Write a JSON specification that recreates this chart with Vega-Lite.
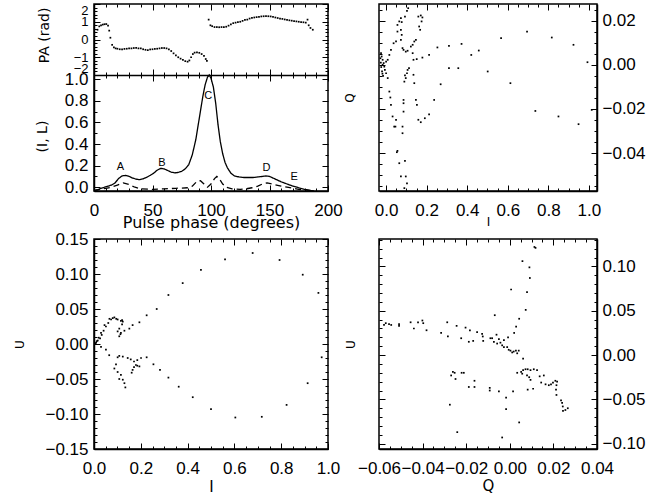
{
"$schema": "https://vega.github.io/schema/vega-lite/v6.json",
"padding": {"left": 12, "top": 2, "right": 5, "bottom": 1},
"datasets": {
"profile": [
{"phase":0,"value":-0.03,"series":"I"},{"phase":3,"value":-0.025,"series":"I"},{"phase":6,"value":-0.01,"series":"I"},{"phase":9,"value":0,"series":"I"},{"phase":12,"value":0.01,"series":"I"},{"phase":15,"value":0.02,"series":"I"},{"phase":18,"value":0.04,"series":"I"},{"phase":21,"value":0.08,"series":"I"},{"phase":24,"value":0.105,"series":"I"},{"phase":27,"value":0.11,"series":"I"},{"phase":30,"value":0.1,"series":"I"},{"phase":33,"value":0.085,"series":"I"},{"phase":36,"value":0.075,"series":"I"},{"phase":39,"value":0.07,"series":"I"},{"phase":42,"value":0.078,"series":"I"},{"phase":45,"value":0.092,"series":"I"},{"phase":48,"value":0.11,"series":"I"},{"phase":51,"value":0.13,"series":"I"},{"phase":54,"value":0.158,"series":"I"},{"phase":57,"value":0.175,"series":"I"},{"phase":60,"value":0.17,"series":"I"},{"phase":63,"value":0.155,"series":"I"},{"phase":66,"value":0.14,"series":"I"},{"phase":69,"value":0.133,"series":"I"},{"phase":72,"value":0.137,"series":"I"},{"phase":75,"value":0.148,"series":"I"},{"phase":78,"value":0.17,"series":"I"},{"phase":81,"value":0.21,"series":"I"},{"phase":84,"value":0.3,"series":"I"},{"phase":87,"value":0.44,"series":"I"},{"phase":90,"value":0.64,"series":"I"},{"phase":93,"value":0.84,"series":"I"},{"phase":95,"value":0.95,"series":"I"},{"phase":97,"value":1.02,"series":"I"},{"phase":98.5,"value":1.04,"series":"I"},{"phase":100,"value":1.01,"series":"I"},{"phase":102,"value":0.93,"series":"I"},{"phase":104,"value":0.78,"series":"I"},{"phase":106,"value":0.58,"series":"I"},{"phase":108,"value":0.42,"series":"I"},{"phase":110,"value":0.31,"series":"I"},{"phase":112,"value":0.23,"series":"I"},{"phase":114,"value":0.18,"series":"I"},{"phase":117,"value":0.13,"series":"I"},{"phase":120,"value":0.105,"series":"I"},{"phase":124,"value":0.095,"series":"I"},{"phase":128,"value":0.09,"series":"I"},{"phase":132,"value":0.09,"series":"I"},{"phase":136,"value":0.09,"series":"I"},{"phase":140,"value":0.095,"series":"I"},{"phase":144,"value":0.1,"series":"I"},{"phase":147,"value":0.105,"series":"I"},{"phase":150,"value":0.1,"series":"I"},{"phase":153,"value":0.085,"series":"I"},{"phase":156,"value":0.07,"series":"I"},{"phase":160,"value":0.05,"series":"I"},{"phase":165,"value":0.03,"series":"I"},{"phase":170,"value":0.01,"series":"I"},{"phase":175,"value":-0.005,"series":"I"},{"phase":180,"value":-0.02,"series":"I"},{"phase":185,"value":-0.03,"series":"I"},{"phase":188,"value":-0.034,"series":"I"},
{"phase":0,"value":-0.03,"series":"L"},{"phase":5,"value":-0.02,"series":"L"},{"phase":10,"value":-0.01,"series":"L"},{"phase":15,"value":0,"series":"L"},{"phase":20,"value":0.02,"series":"L"},{"phase":25,"value":0.04,"series":"L"},{"phase":30,"value":0.025,"series":"L"},{"phase":35,"value":0,"series":"L"},{"phase":40,"value":-0.015,"series":"L"},{"phase":50,"value":-0.02,"series":"L"},{"phase":60,"value":-0.015,"series":"L"},{"phase":70,"value":-0.01,"series":"L"},{"phase":80,"value":-0.005,"series":"L"},{"phase":84,"value":0.01,"series":"L"},{"phase":88,"value":0.055,"series":"L"},{"phase":91,"value":0.06,"series":"L"},{"phase":94,"value":0.03,"series":"L"},{"phase":97,"value":0,"series":"L"},{"phase":100,"value":0.03,"series":"L"},{"phase":103,"value":0.08,"series":"L"},{"phase":105,"value":0.1,"series":"L"},{"phase":107,"value":0.08,"series":"L"},{"phase":110,"value":0.03,"series":"L"},{"phase":113,"value":0,"series":"L"},{"phase":118,"value":-0.015,"series":"L"},{"phase":125,"value":-0.02,"series":"L"},{"phase":130,"value":-0.015,"series":"L"},{"phase":135,"value":-0.005,"series":"L"},{"phase":140,"value":0.01,"series":"L"},{"phase":144,"value":0.03,"series":"L"},{"phase":148,"value":0.04,"series":"L"},{"phase":152,"value":0.03,"series":"L"},{"phase":156,"value":0.02,"series":"L"},{"phase":160,"value":0.01,"series":"L"},{"phase":165,"value":0,"series":"L"},{"phase":170,"value":-0.01,"series":"L"},{"phase":175,"value":-0.02,"series":"L"},{"phase":180,"value":-0.025,"series":"L"},{"phase":185,"value":-0.03,"series":"L"}
],
"peaks": [
{"phase":22.5,"value":0.19,"label":"A"},{"phase":58,"value":0.225,"label":"B"},{"phase":97.7,"value":0.85,"label":"C"},{"phase":147.5,"value":0.18,"label":"D"},{"phase":171,"value":0.095,"label":"E"}
],
"pa": [
{"phase":3,"pa":0.55},{"phase":4.5,"pa":0.74},{"phase":6,"pa":0.8},{"phase":7.5,"pa":0.84},{"phase":9,"pa":0.86},{"phase":10.5,"pa":0.87},{"phase":12,"pa":0.78},{"phase":13,"pa":0.5},{"phase":14,"pa":0.1},{"phase":15.5,"pa":-0.3},{"phase":17,"pa":-0.45},{"phase":18.5,"pa":-0.5},{"phase":20,"pa":-0.52},{"phase":22,"pa":-0.55},{"phase":24,"pa":-0.55},{"phase":26,"pa":-0.53},{"phase":28,"pa":-0.52},{"phase":30,"pa":-0.5},{"phase":32,"pa":-0.5},{"phase":34,"pa":-0.48},{"phase":36,"pa":-0.47},{"phase":38,"pa":-0.5},{"phase":40,"pa":-0.5},{"phase":42,"pa":-0.55},{"phase":44,"pa":-0.58},{"phase":46,"pa":-0.6},{"phase":48,"pa":-0.56},{"phase":50,"pa":-0.55},{"phase":52,"pa":-0.53},{"phase":54,"pa":-0.52},{"phase":56,"pa":-0.5},{"phase":58,"pa":-0.48},{"phase":60,"pa":-0.48},{"phase":62,"pa":-0.5},{"phase":64,"pa":-0.55},{"phase":66,"pa":-0.65},{"phase":68,"pa":-0.78},{"phase":70,"pa":-0.9},{"phase":72,"pa":-1},{"phase":74,"pa":-1.08},{"phase":76,"pa":-1.15},{"phase":78,"pa":-1.22},{"phase":80,"pa":-1.25},{"phase":81.5,"pa":-1.18},{"phase":83,"pa":-1},{"phase":84.5,"pa":-0.82},{"phase":86,"pa":-0.74},{"phase":88,"pa":-0.72},{"phase":90,"pa":-0.75},{"phase":92,"pa":-0.82},{"phase":94,"pa":-0.92},{"phase":95.5,"pa":-1.1},{"phase":96.5,"pa":-1.2},
{"phase":98,"pa":1.12},{"phase":99.5,"pa":0.8},{"phase":101,"pa":0.75},{"phase":103,"pa":0.7},{"phase":105,"pa":0.7},{"phase":107,"pa":0.69},{"phase":109,"pa":0.7},{"phase":111,"pa":0.7},{"phase":113,"pa":0.72},{"phase":115,"pa":0.78},{"phase":117,"pa":0.85},{"phase":119,"pa":0.92},{"phase":121,"pa":0.95},{"phase":123,"pa":0.98},{"phase":125,"pa":1},{"phase":127,"pa":1.05},{"phase":129,"pa":1.1},{"phase":131,"pa":1.12},{"phase":133,"pa":1.18},{"phase":135,"pa":1.22},{"phase":137,"pa":1.24},{"phase":139,"pa":1.26},{"phase":141,"pa":1.28},{"phase":143,"pa":1.3},{"phase":145,"pa":1.31},{"phase":147,"pa":1.32},{"phase":149,"pa":1.31},{"phase":151,"pa":1.3},{"phase":153,"pa":1.27},{"phase":155,"pa":1.24},{"phase":157,"pa":1.21},{"phase":159,"pa":1.18},{"phase":161,"pa":1.16},{"phase":163,"pa":1.13},{"phase":165,"pa":1.1},{"phase":167,"pa":1.08},{"phase":169,"pa":1.06},{"phase":171,"pa":1.04},{"phase":173,"pa":1.02},{"phase":175,"pa":1},{"phase":177,"pa":0.98},{"phase":179,"pa":0.97},{"phase":181,"pa":0.95},{"phase":182.5,"pa":1.12},{"phase":183.5,"pa":0.8},{"phase":185,"pa":0.65},{"phase":187,"pa":0.55}
],
"qi": [
{"I":0.109,"Q":0.0257},{"I":0.103,"Q":0.0245},{"I":0.093,"Q":0.0219},{"I":0.077,"Q":0.0194},{"I":0.073,"Q":0.0159},{"I":0.077,"Q":0.0136},{"I":0.073,"Q":0.0113},{"I":0.081,"Q":0.0076},{"I":0.086,"Q":0.0068},{"I":0.097,"Q":0.006},{"I":0.106,"Q":0.0064},
{"I":0.159,"Q":0.0219},{"I":0.171,"Q":0.0224},{"I":0.179,"Q":0.0215},{"I":0.175,"Q":0.0197},{"I":0.163,"Q":0.0174},{"I":0.168,"Q":0.0159},{"I":0.147,"Q":0.0113},{"I":0.139,"Q":0.0106},{"I":0.131,"Q":0.0091},{"I":0.122,"Q":0.0083},{"I":0.131,"Q":0.0053},{"I":0.135,"Q":0.0023},{"I":0.151,"Q":0.0026},{"I":0.179,"Q":0.0033},{"I":0.212,"Q":0.0045},{"I":0.253,"Q":0.0079},{"I":0.31,"Q":0.0086},{"I":0.372,"Q":0.0095},{"I":0.457,"Q":0.0065},{"I":0.42,"Q":0.0045},{"I":0.567,"Q":0.0121},{"I":0.695,"Q":0.0151},{"I":0.817,"Q":0.0124},{"I":0.924,"Q":0.0091},{"I":0.993,"Q":0.0012},{"I":1.014,"Q":-0.0204},{"I":0.949,"Q":-0.0269},{"I":0.85,"Q":-0.0234},{"I":0.736,"Q":-0.0209},{"I":0.613,"Q":-0.0083},{"I":0.501,"Q":-0.003},{"I":0.356,"Q":-0.0015},{"I":0.31,"Q":-0.0015},{"I":0.269,"Q":-0.0088},{"I":0.237,"Q":-0.0159},{"I":0.212,"Q":-0.0224},{"I":0.171,"Q":-0.026},{"I":0.159,"Q":-0.0249},{"I":0.191,"Q":-0.0242},{"I":0.152,"Q":-0.0181},{"I":0.147,"Q":-0.0159},{"I":0.139,"Q":-0.0083},{"I":0.135,"Q":-0.0045},{"I":0.113,"Q":-0.0015},{"I":0.106,"Q":-0.0023},{"I":0.103,"Q":-0.0038},{"I":0.097,"Q":-0.006},{"I":0.093,"Q":-0.0048},{"I":0.09,"Q":-0.0076},{"I":0.086,"Q":-0.0159},{"I":0.086,"Q":-0.0174},{"I":0.086,"Q":-0.0212},{"I":0.081,"Q":-0.028},{"I":0.081,"Q":-0.031},{"I":0.093,"Q":-0.0435},{"I":0.056,"Q":-0.039},{"I":0.053,"Q":-0.0396},{"I":0.065,"Q":-0.0446},{"I":0.073,"Q":-0.0506},{"I":0.097,"Q":-0.0506},{"I":0.103,"Q":-0.0537},{"I":0.09,"Q":-0.0559},
{"I":-0.025,"Q":0.0053},{"I":-0.022,"Q":0.0038},{"I":-0.017,"Q":0.0023},{"I":-0.012,"Q":0.0008},{"I":-0.017,"Q":0},{"I":-0.009,"Q":-0.0008},{"I":-0.006,"Q":-0.0023},{"I":0,"Q":-0.0038},{"I":0.008,"Q":-0.006},{"I":0,"Q":0.0015},{"I":0.008,"Q":0.0023},{"I":0.016,"Q":0.0045},{"I":0.024,"Q":0.0068},{"I":0.037,"Q":0.0098},{"I":0.016,"Q":-0.0121},{"I":0.021,"Q":-0.0148},{"I":0.024,"Q":-0.0181},{"I":0.032,"Q":-0.0234},{"I":0.04,"Q":-0.028},{"I":0.046,"Q":-0.028},{"I":0.049,"Q":-0.0249},{"I":0.056,"Q":0.0181},{"I":0.065,"Q":0.0197},{"I":0.073,"Q":0.0212},{"I":0.056,"Q":0.0151},{"I":0.049,"Q":0.0106},{"I":-0.028,"Q":0.003},{"I":-0.026,"Q":0.001},{"I":-0.024,"Q":-0.001},{"I":-0.02,"Q":-0.003},{"I":-0.018,"Q":-0.004},{"I":-0.015,"Q":-0.005}
],
"ui": [
{"I":0.678,"U":0.13},{"I":0.56,"U":0.121},{"I":0.457,"U":0.106},{"I":0.379,"U":0.087},{"I":0.318,"U":0.07},{"I":0.268,"U":0.05},{"I":0.225,"U":0.041},{"I":0.194,"U":0.031},{"I":0.165,"U":0.027},{"I":0.151,"U":0.022},{"I":0.13,"U":0.019},{"I":0.115,"U":0.016},{"I":0.113,"U":0.014},{"I":0.108,"U":0.011},{"I":0.101,"U":0.018},{"I":0.108,"U":0.022},{"I":0.123,"U":0.032},{"I":0.12,"U":0.034},{"I":0.101,"U":0.035},{"I":0.087,"U":0.038},{"I":0.073,"U":0.035},{"I":0.061,"U":0.03},{"I":0.051,"U":0.025},{"I":0.041,"U":0.019},{"I":0.033,"U":0.013},{"I":0.026,"U":0.008},{"I":0.016,"U":0.005},{"I":0.009,"U":0.002},{"I":0.006,"U":0.001},{"I":0.012,"U":0.004},{"I":0.02,"U":0.009},{"I":0.03,"U":0.016},{"I":0.045,"U":0.027},{"I":0.066,"U":0.036},{"I":0.08,"U":0.037},{"I":0.095,"U":0.036},{"I":0.115,"U":0.033},{"I":0.12,"U":0.028},
{"I":0.793,"U":0.12},{"I":0.892,"U":0.099},{"I":0.959,"U":0.073},{"I":0.973,"U":-0.019},{"I":0.913,"U":-0.056},{"I":0.823,"U":-0.087},{"I":0.717,"U":-0.104},{"I":0.604,"U":-0.105},{"I":0.5,"U":-0.093},{"I":0.422,"U":-0.076},{"I":0.362,"U":-0.061},{"I":0.318,"U":-0.048},{"I":0.282,"U":-0.037},{"I":0.254,"U":-0.029},{"I":0.225,"U":-0.019},{"I":0.201,"U":-0.02},{"I":0.185,"U":-0.023},{"I":0.171,"U":-0.025},{"I":0.157,"U":-0.022},{"I":0.144,"U":-0.02},{"I":0.123,"U":-0.018},{"I":0.108,"U":-0.017},{"I":0.101,"U":-0.019},{"I":0.179,"U":-0.03},{"I":0.185,"U":-0.031},{"I":0.194,"U":-0.032},{"I":0.171,"U":-0.033},{"I":0.165,"U":-0.037},{"I":0.161,"U":-0.041},{"I":0.115,"U":-0.044},{"I":0.123,"U":-0.051},{"I":0.13,"U":-0.056},{"I":0.134,"U":-0.062},{"I":0.108,"U":-0.05},{"I":0.101,"U":-0.04},{"I":0.087,"U":-0.035},{"I":0.094,"U":-0.029},{"I":0.065,"U":-0.016},{"I":0.051,"U":-0.008},{"I":0.03,"U":-0.004}
],
"uq": [
{"Q":0.0118,"U":0.121},{"Q":0.0113,"U":0.122},{"Q":0.0058,"U":0.106},{"Q":0.009,"U":0.099},{"Q":0.0092,"U":0.087},{"Q":0.0006,"U":0.074},{"Q":0.0079,"U":0.071},{"Q":0.0073,"U":0.051},{"Q":0.0043,"U":0.041},{"Q":0.0029,"U":0.032},{"Q":0.002,"U":0.025},{"Q":-0.0008,"U":0.02},{"Q":-0.0027,"U":0.017},{"Q":-0.005,"U":0.018},{"Q":-0.0069,"U":0.045},{"Q":-0.0061,"U":0.023},{"Q":-0.0081,"U":0.019},{"Q":-0.0073,"U":0.015},{"Q":-0.0058,"U":0.013},{"Q":-0.0043,"U":0.014},{"Q":-0.0035,"U":0.011},{"Q":-0.0027,"U":0.009},{"Q":-0.0012,"U":0.009},{"Q":-0.0005,"U":0.006},{"Q":0.0003,"U":0.005},{"Q":0.0011,"U":0.003},{"Q":0.0018,"U":0.004},{"Q":0.0028,"U":0.005},{"Q":0.0034,"U":0.002},{"Q":0.0041,"U":0.005},{"Q":0.0061,"U":-0.004},
{"Q":-0.0577,"U":0.034},{"Q":-0.0569,"U":0.036},{"Q":-0.0554,"U":0.035},{"Q":-0.0544,"U":0.034},{"Q":-0.0508,"U":0.035},{"Q":-0.0508,"U":0.033},{"Q":-0.0455,"U":0.037},{"Q":-0.044,"U":0.03},{"Q":-0.0421,"U":0.037},{"Q":-0.0401,"U":0.039},{"Q":-0.0397,"U":0.036},{"Q":-0.0382,"U":0.028},{"Q":-0.0315,"U":0.025},{"Q":-0.0287,"U":0.037},{"Q":-0.0284,"U":0.021},{"Q":-0.0244,"U":0.033},{"Q":-0.0223,"U":0.019},{"Q":-0.0203,"U":0.031},{"Q":-0.0188,"U":0.015},{"Q":-0.0183,"U":0.028},{"Q":-0.0168,"U":0.016},{"Q":-0.015,"U":0.026},{"Q":-0.0127,"U":0.024},{"Q":-0.0124,"U":0.021},{"Q":-0.0122,"U":0.016},{"Q":-0.0089,"U":0.019},
{"Q":-0.0269,"U":-0.023},{"Q":-0.0261,"U":-0.019},{"Q":-0.0253,"U":-0.02},{"Q":-0.0249,"U":-0.027},{"Q":-0.0221,"U":-0.02},{"Q":-0.0211,"U":-0.02},{"Q":-0.0188,"U":-0.036},{"Q":-0.0162,"U":-0.029},{"Q":-0.0162,"U":-0.036},{"Q":-0.0275,"U":-0.056},{"Q":-0.0241,"U":-0.087},{"Q":-0.0092,"U":-0.037},{"Q":-0.0092,"U":-0.04},{"Q":-0.005,"U":-0.041},{"Q":-0.0017,"U":-0.048},{"Q":-0.0017,"U":-0.061},{"Q":-0.0035,"U":-0.093},{"Q":0.0015,"U":-0.041},{"Q":0.0043,"U":-0.076},{"Q":0.0034,"U":-0.02},{"Q":0.0052,"U":-0.019},{"Q":0.0061,"U":-0.017},{"Q":0.0072,"U":-0.016},{"Q":0.0082,"U":-0.016},{"Q":0.0095,"U":-0.017},{"Q":0.011,"U":-0.016},{"Q":0.0125,"U":-0.017},{"Q":0.0057,"U":-0.021},{"Q":0.0079,"U":-0.023},{"Q":0.0089,"U":-0.025},{"Q":0.0095,"U":-0.028},{"Q":0.0082,"U":-0.039},{"Q":0.0107,"U":-0.038},{"Q":0.0137,"U":-0.024},{"Q":0.0156,"U":-0.023},{"Q":0.0144,"U":-0.031},{"Q":0.0164,"U":-0.033},{"Q":0.0179,"U":-0.034},{"Q":0.0189,"U":-0.033},{"Q":0.0198,"U":-0.031},{"Q":0.0209,"U":-0.029},{"Q":0.0217,"U":-0.03},{"Q":0.0214,"U":-0.034},{"Q":0.0212,"U":-0.039},{"Q":0.0214,"U":-0.045},{"Q":0.0235,"U":-0.051},{"Q":0.024,"U":-0.054},{"Q":0.0243,"U":-0.058},{"Q":0.0244,"U":-0.063},{"Q":0.0255,"U":-0.062},{"Q":0.0266,"U":-0.06}
]
},
"columns": 2,
"spacing": {"row": 48, "column": 51},
"bounds": "flush",
"concat": [
{
"width": 234, "height": 187,
"layer": [
{"data": {"name": "profile"}, "mark": {"type": "line", "color": "black", "strokeWidth": 1.3},
"encoding": {
"x": {"field": "phase", "type": "quantitative", "scale": {"domain": [0, 200], "nice": false, "zero": false},
"axis": {"orient": "bottom", "values": [0,50,100,150,200], "format": "d", "ticks": false, "tickSize": 0, "labelPadding": 11, "title": "Pulse phase (degrees)", "titleFont": "DejaVu Sans", "titleFontSize": 16, "titleX": 117, "titleY": 36, "titleBaseline": "alphabetic"}},
"y": {"field": "value", "type": "quantitative", "scale": {"domain": [-0.035, 1.04], "range": [187, 71], "nice": false, "zero": false},
"axis": {"orient": "left", "values": [0,0.2,0.4,0.6,0.8,1], "format": ".1f", "ticks": false, "tickSize": 0, "labelPadding": 6, "title": "(I, L)", "titleFont": "DejaVu Sans", "titleFontSize": 14, "titleX": -48, "titleY": 132, "titleBaseline": "alphabetic"}},
"strokeDash": {"field": "series", "type": "nominal", "scale": {"domain": ["I", "L"], "range": [[1, 0], [6, 4]]}, "legend": null}
}},
{"data": {"name": "peaks"}, "mark": {"type": "text", "fontSize": 11, "color": "black", "baseline": "middle"},
"encoding": {
"x": {"field": "phase", "type": "quantitative", "scale": {"domain": [0, 200], "nice": false, "zero": false}, "axis": null},
"y": {"field": "value", "type": "quantitative", "scale": {"domain": [-0.035, 1.04], "range": [187, 71], "nice": false, "zero": false}, "axis": null},
"text": {"field": "label"}}},
{"data": {"name": "pa"}, "mark": {"type": "square", "size": 3, "color": "black", "opacity": 1},
"encoding": {
"x": {"field": "phase", "type": "quantitative", "scale": {"domain": [0, 200], "nice": false, "zero": false},
"axis": {"orient": "bottom", "offset": -116, "ticks": false, "labels": false, "title": null}},
"y": {"field": "pa", "type": "quantitative", "scale": {"domain": [-2, 2], "range": [71, 0], "nice": false, "zero": false},
"axis": {"orient": "left", "values": [-2,-1,0,1,2], "format": "d", "ticks": false, "tickSize": 0, "labelPadding": 6, "labelFlush": true, "labelFontSize": 13, "title": "PA (rad)", "titleFont": "DejaVu Sans", "titleFontSize": 14, "titleX": -46, "titleY": 31, "titleBaseline": "alphabetic"}}
}},
{"data": {"name": "profile"}, "mark": {"type": "point", "opacity": 0},
"encoding": {
"x": {"field": "phase", "type": "quantitative", "scale": {"domain": [0, 200], "nice": false, "zero": false},
"axis": {"orient": "bottom", "offset": -6, "tickSize": 6, "values": [0,50,100,150,200], "domain": false, "labels": false, "title": null}},
"y": {"field": "value", "type": "quantitative", "scale": {"domain": [-0.035, 1.04], "range": [187, 71], "nice": false, "zero": false},
"axis": {"orient": "left", "offset": -6, "tickSize": 6, "values": [0,0.2,0.4,0.6,0.8,1], "domain": false, "labels": false, "title": null}}
}},
{"data": {"name": "profile"}, "mark": {"type": "point", "opacity": 0},
"encoding": {
"x": {"field": "phase", "type": "quantitative", "scale": {"domain": [0, 200], "nice": false, "zero": false},
"axis": {"orient": "bottom", "offset": -3, "tickSize": 3, "values": [10,20,30,40,60,70,80,90,110,120,130,140,160,170,180,190], "domain": false, "labels": false, "title": null}},
"y": {"field": "value", "type": "quantitative", "scale": {"domain": [-0.035, 1.04], "range": [187, 71], "nice": false, "zero": false},
"axis": {"orient": "left", "offset": -3, "tickSize": 3, "values": [0.1,0.3,0.5,0.7,0.9], "domain": false, "labels": false, "title": null}}
}},
{"data": {"name": "profile"}, "mark": {"type": "point", "opacity": 0},
"encoding": {
"x": {"field": "phase", "type": "quantitative", "scale": {"domain": [0, 200], "nice": false, "zero": false},
"axis": {"orient": "top", "offset": -6, "tickSize": 6, "values": [0,50,100,150,200], "domain": false, "labels": false, "title": null}},
"y": {"field": "value", "type": "quantitative", "scale": {"domain": [-0.035, 1.04], "range": [187, 71], "nice": false, "zero": false},
"axis": {"orient": "right", "offset": -6, "tickSize": 6, "values": [0,0.2,0.4,0.6,0.8,1], "domain": false, "labels": false, "title": null}}
}},
{"data": {"name": "profile"}, "mark": {"type": "point", "opacity": 0},
"encoding": {
"x": {"field": "phase", "type": "quantitative", "scale": {"domain": [0, 200], "nice": false, "zero": false},
"axis": {"orient": "top", "offset": -3, "tickSize": 3, "values": [10,20,30,40,60,70,80,90,110,120,130,140,160,170,180,190], "domain": false, "labels": false, "title": null}},
"y": {"field": "value", "type": "quantitative", "scale": {"domain": [-0.035, 1.04], "range": [187, 71], "nice": false, "zero": false},
"axis": {"orient": "right", "offset": -3, "tickSize": 3, "values": [0.1,0.3,0.5,0.7,0.9], "domain": false, "labels": false, "title": null}}
}},
{"data": {"name": "pa"}, "mark": {"type": "point", "opacity": 0},
"encoding": {
"x": {"field": "phase", "type": "quantitative", "scale": {"domain": [0, 200], "nice": false, "zero": false},
"axis": {"orient": "bottom", "offset": -122, "tickSize": 6, "values": [0,50,100,150,200], "domain": false, "labels": false, "title": null}},
"y": {"field": "pa", "type": "quantitative", "scale": {"domain": [-2, 2], "range": [71, 0], "nice": false, "zero": false},
"axis": {"orient": "left", "offset": -6, "tickSize": 6, "values": [-2,-1,0,1,2], "domain": false, "labels": false, "title": null}}
}},
{"data": {"name": "pa"}, "mark": {"type": "point", "opacity": 0},
"encoding": {
"x": {"field": "phase", "type": "quantitative", "scale": {"domain": [0, 200], "nice": false, "zero": false},
"axis": {"orient": "bottom", "offset": -119, "tickSize": 3, "values": [10,20,30,40,60,70,80,90,110,120,130,140,160,170,180,190], "domain": false, "labels": false, "title": null}},
"y": {"field": "pa", "type": "quantitative", "scale": {"domain": [-2, 2], "range": [71, 0], "nice": false, "zero": false},
"axis": {"orient": "left", "offset": -3, "tickSize": 3, "values": [-1.8,-1.6,-1.4,-1.2,-0.8,-0.6,-0.4,-0.2,0.2,0.4,0.6,0.8,1.2,1.4,1.6,1.8], "domain": false, "labels": false, "title": null}}
}},
{"data": {"name": "pa"}, "mark": {"type": "point", "opacity": 0},
"encoding": {
"x": {"field": "phase", "type": "quantitative", "scale": {"domain": [0, 200], "nice": false, "zero": false},
"axis": {"orient": "top", "offset": -77, "tickSize": 6, "values": [0,50,100,150,200], "domain": false, "labels": false, "title": null}},
"y": {"field": "pa", "type": "quantitative", "scale": {"domain": [-2, 2], "range": [71, 0], "nice": false, "zero": false},
"axis": {"orient": "right", "offset": -6, "tickSize": 6, "values": [-2,-1,0,1,2], "domain": false, "labels": false, "title": null}}
}},
{"data": {"name": "pa"}, "mark": {"type": "point", "opacity": 0},
"encoding": {
"x": {"field": "phase", "type": "quantitative", "scale": {"domain": [0, 200], "nice": false, "zero": false},
"axis": {"orient": "top", "offset": -74, "tickSize": 3, "values": [10,20,30,40,60,70,80,90,110,120,130,140,160,170,180,190], "domain": false, "labels": false, "title": null}},
"y": {"field": "pa", "type": "quantitative", "scale": {"domain": [-2, 2], "range": [71, 0], "nice": false, "zero": false},
"axis": {"orient": "right", "offset": -3, "tickSize": 3, "values": [-1.8,-1.6,-1.4,-1.2,-0.8,-0.6,-0.4,-0.2,0.2,0.4,0.6,0.8,1.2,1.4,1.6,1.8], "domain": false, "labels": false, "title": null}}
}}
],
"resolve": {"scale": {"x": "independent", "y": "independent"}}
},
{
"width": 218, "height": 187,
"layer": [
{"data": {"name": "qi"}, "mark": {"type": "square", "size": 3, "color": "black", "opacity": 1},
"encoding": {
"x": {"field": "I", "type": "quantitative", "scale": {"domain": [-0.035, 1.04], "nice": false, "zero": false},
"axis": {"orient": "bottom", "values": [0,0.2,0.4,0.6,0.8,1], "format": ".1f", "ticks": false, "tickSize": 0, "labelPadding": 11, "title": "I", "titleFont": "DejaVu Sans", "titleFontSize": 12, "titleX": 109, "titleY": 34, "titleBaseline": "alphabetic"}},
"y": {"field": "Q", "type": "quantitative", "scale": {"domain": [-0.0572, 0.0276], "nice": false, "zero": false},
"axis": {"orient": "right", "values": [-0.04,-0.02,0,0.02], "format": ".2f", "ticks": false, "tickSize": 0, "labelPadding": 5, "title": null}}
}},
{"data": {"name": "qi"}, "mark": {"type": "point", "opacity": 0},
"encoding": {
"x": {"field": "I", "type": "quantitative", "scale": {"domain": [-0.035, 1.04], "nice": false, "zero": false},
"axis": {"orient": "bottom", "offset": -6, "tickSize": 6, "values": [0,0.2,0.4,0.6,0.8,1], "domain": false, "labels": false, "title": null}},
"y": {"field": "Q", "type": "quantitative", "scale": {"domain": [-0.0572, 0.0276], "nice": false, "zero": false},
"axis": {"orient": "left", "offset": -6, "tickSize": 6, "values": [-0.04,-0.02,0,0.02], "domain": false, "labels": false, "title": "Q", "titleFont": "DejaVu Sans", "titleFontSize": 12, "titleX": -32, "titleY": 93.5, "titleBaseline": "alphabetic"}}
}},
{"data": {"name": "qi"}, "mark": {"type": "point", "opacity": 0},
"encoding": {
"x": {"field": "I", "type": "quantitative", "scale": {"domain": [-0.035, 1.04], "nice": false, "zero": false},
"axis": {"orient": "bottom", "offset": -3, "tickSize": 3, "values": [0.05,0.1,0.15,0.25,0.3,0.35,0.45,0.5,0.55,0.65,0.7,0.75,0.85,0.9,0.95], "domain": false, "labels": false, "title": null}},
"y": {"field": "Q", "type": "quantitative", "scale": {"domain": [-0.0572, 0.0276], "nice": false, "zero": false},
"axis": {"orient": "left", "offset": -3, "tickSize": 3, "values": [-0.055,-0.05,-0.045,-0.035,-0.03,-0.025,-0.015,-0.01,-0.005,0.005,0.01,0.015,0.025], "domain": false, "labels": false, "title": null}}
}},
{"data": {"name": "qi"}, "mark": {"type": "point", "opacity": 0},
"encoding": {
"x": {"field": "I", "type": "quantitative", "scale": {"domain": [-0.035, 1.04], "nice": false, "zero": false},
"axis": {"orient": "top", "offset": -6, "tickSize": 6, "values": [0,0.2,0.4,0.6,0.8,1], "domain": false, "labels": false, "title": null}},
"y": {"field": "Q", "type": "quantitative", "scale": {"domain": [-0.0572, 0.0276], "nice": false, "zero": false},
"axis": {"orient": "right", "offset": -6, "tickSize": 6, "values": [-0.04,-0.02,0,0.02], "domain": false, "labels": false, "title": null}}
}},
{"data": {"name": "qi"}, "mark": {"type": "point", "opacity": 0},
"encoding": {
"x": {"field": "I", "type": "quantitative", "scale": {"domain": [-0.035, 1.04], "nice": false, "zero": false},
"axis": {"orient": "top", "offset": -3, "tickSize": 3, "values": [0.05,0.1,0.15,0.25,0.3,0.35,0.45,0.5,0.55,0.65,0.7,0.75,0.85,0.9,0.95], "domain": false, "labels": false, "title": null}},
"y": {"field": "Q", "type": "quantitative", "scale": {"domain": [-0.0572, 0.0276], "nice": false, "zero": false},
"axis": {"orient": "right", "offset": -3, "tickSize": 3, "values": [-0.055,-0.05,-0.045,-0.035,-0.03,-0.025,-0.015,-0.01,-0.005,0.005,0.01,0.015,0.025], "domain": false, "labels": false, "title": null}}
}}
],
"resolve": {"scale": {"x": "independent", "y": "independent"}}
},
{
"width": 234, "height": 210,
"layer": [
{"data": {"name": "ui"}, "mark": {"type": "square", "size": 3, "color": "black", "opacity": 1},
"encoding": {
"x": {"field": "I", "type": "quantitative", "scale": {"domain": [0, 1], "nice": false, "zero": false},
"axis": {"orient": "bottom", "values": [0,0.2,0.4,0.6,0.8,1], "format": ".1f", "ticks": false, "tickSize": 0, "labelPadding": 11, "title": "I", "titleFont": "DejaVu Sans", "titleFontSize": 15, "titleX": 117, "titleY": 42.6, "titleBaseline": "alphabetic"}},
"y": {"field": "U", "type": "quantitative", "scale": {"domain": [-0.15, 0.15], "nice": false, "zero": false},
"axis": {"orient": "left", "values": [-0.15,-0.1,-0.05,0,0.05,0.1,0.15], "format": ".2f", "ticks": false, "tickSize": 0, "labelPadding": 6, "title": "U", "titleFont": "DejaVu Sans", "titleFontSize": 12, "titleX": -71, "titleY": 105, "titleBaseline": "alphabetic"}}
}},
{"data": {"name": "ui"}, "mark": {"type": "point", "opacity": 0},
"encoding": {
"x": {"field": "I", "type": "quantitative", "scale": {"domain": [0, 1], "nice": false, "zero": false},
"axis": {"orient": "bottom", "offset": -6, "tickSize": 6, "values": [0,0.2,0.4,0.6,0.8,1], "domain": false, "labels": false, "title": null}},
"y": {"field": "U", "type": "quantitative", "scale": {"domain": [-0.15, 0.15], "nice": false, "zero": false},
"axis": {"orient": "left", "offset": -6, "tickSize": 6, "values": [-0.15,-0.1,-0.05,0,0.05,0.1,0.15], "domain": false, "labels": false, "title": null}}
}},
{"data": {"name": "ui"}, "mark": {"type": "point", "opacity": 0},
"encoding": {
"x": {"field": "I", "type": "quantitative", "scale": {"domain": [0, 1], "nice": false, "zero": false},
"axis": {"orient": "bottom", "offset": -3, "tickSize": 3, "values": [0.05,0.1,0.15,0.25,0.3,0.35,0.45,0.5,0.55,0.65,0.7,0.75,0.85,0.9,0.95], "domain": false, "labels": false, "title": null}},
"y": {"field": "U", "type": "quantitative", "scale": {"domain": [-0.15, 0.15], "nice": false, "zero": false},
"axis": {"orient": "left", "offset": -3, "tickSize": 3, "values": [-0.14,-0.13,-0.12,-0.11,-0.09,-0.08,-0.07,-0.06,-0.04,-0.03,-0.02,-0.01,0.01,0.02,0.03,0.04,0.06,0.07,0.08,0.09,0.11,0.12,0.13,0.14], "domain": false, "labels": false, "title": null}}
}},
{"data": {"name": "ui"}, "mark": {"type": "point", "opacity": 0},
"encoding": {
"x": {"field": "I", "type": "quantitative", "scale": {"domain": [0, 1], "nice": false, "zero": false},
"axis": {"orient": "top", "offset": -6, "tickSize": 6, "values": [0,0.2,0.4,0.6,0.8,1], "domain": false, "labels": false, "title": null}},
"y": {"field": "U", "type": "quantitative", "scale": {"domain": [-0.15, 0.15], "nice": false, "zero": false},
"axis": {"orient": "right", "offset": -6, "tickSize": 6, "values": [-0.15,-0.1,-0.05,0,0.05,0.1,0.15], "domain": false, "labels": false, "title": null}}
}},
{"data": {"name": "ui"}, "mark": {"type": "point", "opacity": 0},
"encoding": {
"x": {"field": "I", "type": "quantitative", "scale": {"domain": [0, 1], "nice": false, "zero": false},
"axis": {"orient": "top", "offset": -3, "tickSize": 3, "values": [0.05,0.1,0.15,0.25,0.3,0.35,0.45,0.5,0.55,0.65,0.7,0.75,0.85,0.9,0.95], "domain": false, "labels": false, "title": null}},
"y": {"field": "U", "type": "quantitative", "scale": {"domain": [-0.15, 0.15], "nice": false, "zero": false},
"axis": {"orient": "right", "offset": -3, "tickSize": 3, "values": [-0.14,-0.13,-0.12,-0.11,-0.09,-0.08,-0.07,-0.06,-0.04,-0.03,-0.02,-0.01,0.01,0.02,0.03,0.04,0.06,0.07,0.08,0.09,0.11,0.12,0.13,0.14], "domain": false, "labels": false, "title": null}}
}}
],
"resolve": {"scale": {"x": "independent", "y": "independent"}}
},
{
"width": 218, "height": 210,
"layer": [
{"data": {"name": "uq"}, "mark": {"type": "square", "size": 3, "color": "black", "opacity": 1},
"encoding": {
"x": {"field": "Q", "type": "quantitative", "scale": {"domain": [-0.06, 0.04], "nice": false, "zero": false},
"axis": {"orient": "bottom", "values": [-0.06,-0.04,-0.02,0,0.02,0.04], "format": ".2f", "ticks": false, "tickSize": 0, "labelPadding": 11, "title": "Q", "titleFont": "DejaVu Sans", "titleFontSize": 15, "titleX": 109, "titleY": 41, "titleBaseline": "alphabetic"}},
"y": {"field": "U", "type": "quantitative", "scale": {"domain": [-0.106, 0.131], "nice": false, "zero": false},
"axis": {"orient": "right", "values": [-0.1,-0.05,0,0.05,0.1], "format": ".2f", "ticks": false, "tickSize": 0, "labelPadding": 5, "title": null}}
}},
{"data": {"name": "uq"}, "mark": {"type": "point", "opacity": 0},
"encoding": {
"x": {"field": "Q", "type": "quantitative", "scale": {"domain": [-0.06, 0.04], "nice": false, "zero": false},
"axis": {"orient": "bottom", "offset": -6, "tickSize": 6, "values": [-0.06,-0.04,-0.02,0,0.02,0.04], "domain": false, "labels": false, "title": null}},
"y": {"field": "U", "type": "quantitative", "scale": {"domain": [-0.106, 0.131], "nice": false, "zero": false},
"axis": {"orient": "left", "offset": -6, "tickSize": 6, "values": [-0.1,-0.05,0,0.05,0.1], "domain": false, "labels": false, "title": "U", "titleFont": "DejaVu Sans", "titleFontSize": 12, "titleX": -31, "titleY": 105, "titleBaseline": "alphabetic"}}
}},
{"data": {"name": "uq"}, "mark": {"type": "point", "opacity": 0},
"encoding": {
"x": {"field": "Q", "type": "quantitative", "scale": {"domain": [-0.06, 0.04], "nice": false, "zero": false},
"axis": {"orient": "bottom", "offset": -3, "tickSize": 3, "values": [-0.055,-0.05,-0.045,-0.035,-0.03,-0.025,-0.015,-0.01,-0.005,0.005,0.01,0.015,0.025,0.03,0.035], "domain": false, "labels": false, "title": null}},
"y": {"field": "U", "type": "quantitative", "scale": {"domain": [-0.106, 0.131], "nice": false, "zero": false},
"axis": {"orient": "left", "offset": -3, "tickSize": 3, "values": [-0.09,-0.08,-0.07,-0.06,-0.04,-0.03,-0.02,-0.01,0.01,0.02,0.03,0.04,0.06,0.07,0.08,0.09,0.11,0.12,0.13], "domain": false, "labels": false, "title": null}}
}},
{"data": {"name": "uq"}, "mark": {"type": "point", "opacity": 0},
"encoding": {
"x": {"field": "Q", "type": "quantitative", "scale": {"domain": [-0.06, 0.04], "nice": false, "zero": false},
"axis": {"orient": "top", "offset": -6, "tickSize": 6, "values": [-0.06,-0.04,-0.02,0,0.02,0.04], "domain": false, "labels": false, "title": null}},
"y": {"field": "U", "type": "quantitative", "scale": {"domain": [-0.106, 0.131], "nice": false, "zero": false},
"axis": {"orient": "right", "offset": -6, "tickSize": 6, "values": [-0.1,-0.05,0,0.05,0.1], "domain": false, "labels": false, "title": null}}
}},
{"data": {"name": "uq"}, "mark": {"type": "point", "opacity": 0},
"encoding": {
"x": {"field": "Q", "type": "quantitative", "scale": {"domain": [-0.06, 0.04], "nice": false, "zero": false},
"axis": {"orient": "top", "offset": -3, "tickSize": 3, "values": [-0.055,-0.05,-0.045,-0.035,-0.03,-0.025,-0.015,-0.01,-0.005,0.005,0.01,0.015,0.025,0.03,0.035], "domain": false, "labels": false, "title": null}},
"y": {"field": "U", "type": "quantitative", "scale": {"domain": [-0.106, 0.131], "nice": false, "zero": false},
"axis": {"orient": "right", "offset": -3, "tickSize": 3, "values": [-0.09,-0.08,-0.07,-0.06,-0.04,-0.03,-0.02,-0.01,0.01,0.02,0.03,0.04,0.06,0.07,0.08,0.09,0.11,0.12,0.13], "domain": false, "labels": false, "title": null}}
}}
],
"resolve": {"scale": {"x": "independent", "y": "independent"}}
}
],
"config": {
"font": "Liberation Sans",
"view": {"stroke": "black", "strokeWidth": 1.5},
"axis": {"labelFont": "Liberation Sans", "labelFontSize": 17, "labelColor": "black", "titleFont": "DejaVu Sans", "titleFontSize": 15, "titleFontWeight": "normal", "titleColor": "black", "domainColor": "black", "domainWidth": 1.5, "tickColor": "black", "tickWidth": 1, "ticks": true, "labelOverlap": false, "labelFlush": false, "labelBound": false, "grid": false},
"text": {"font": "Liberation Sans"}
}
}
